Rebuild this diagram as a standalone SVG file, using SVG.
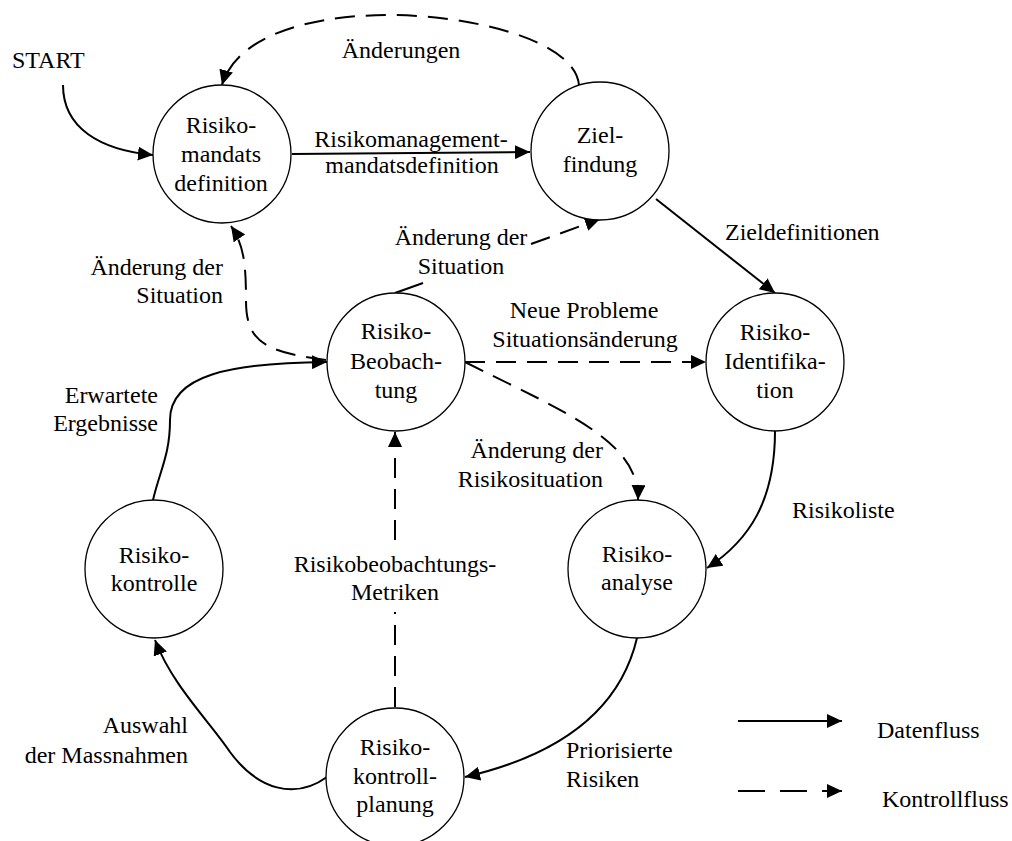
<svg xmlns="http://www.w3.org/2000/svg" width="1012" height="841" viewBox="0 0 1012 841" font-family="'Liberation Serif', Tinos, 'Times New Roman', Times, 'DejaVu Serif', serif">
<style>
text{font-family:'Liberation Serif', Tinos, 'Times New Roman', Times, 'DejaVu Serif', serif;font-size:24px;fill:#000}
.c{text-anchor:middle}
.e{text-anchor:end}
.node circle{fill:#fff;stroke:#000;stroke-width:1.3}
.data{fill:none;stroke:#000;stroke-width:2}
.ctrl{fill:none;stroke:#000;stroke-width:2;stroke-dasharray:20,11}
</style>
<defs>
<marker id="ah" markerUnits="userSpaceOnUse" markerWidth="16" markerHeight="14" refX="15" refY="7" orient="auto">
<path d="M0,0 L15,7 L0,14 z" fill="#000"/>
</marker>
</defs>
<rect width="1012" height="841" fill="#fff"/>
<g id="connectors">
<path class="data" d="M63,85 C63,128 100,150 153,155" marker-end="url(#ah)"/>
<path class="data" d="M292,154 L530,152" marker-end="url(#ah)"/>
<path class="ctrl" d="M579,85 C575,40 470,15 390,15 C300,15 235,40 222,85" marker-end="url(#ah)"/>
<path class="data" d="M656,199 L775,293" marker-end="url(#ah)"/>
<path class="ctrl" d="M465,362 L706,362" marker-end="url(#ah)"/>
<path class="ctrl" d="M465,362 C560,410 640,440 638,500" marker-end="url(#ah)"/>
<path class="data" d="M395,293 L423,283"/>
<path class="ctrl" d="M531,244 L600,219" marker-end="url(#ah)"/>
<path class="ctrl" d="M326,360 C262,352 246,340 246,300 C246,265 244,245 231,226" marker-end="url(#ah)"/>
<path class="data" d="M153,500 C160,470 170,455 170,420 C170,375 230,363 327,362" marker-end="url(#ah)"/>
<path class="ctrl" d="M395,707 L395,612"/>
<path class="ctrl" d="M395,540 L395,432" marker-end="url(#ah)"/>
<path class="data" d="M775,431 C775,500 750,540 707,568" marker-end="url(#ah)"/>
<path class="data" d="M637,638 C620,710 560,755 465,777" marker-end="url(#ah)"/>
<path class="data" d="M327,777 C295,800 258,790 230,752 C210,722 172,685 155,640" marker-end="url(#ah)"/>
</g>
<g id="labels">
<text x="12" y="68">START</text>
<text class="c" x="411" y="147">Risikomanagement-</text>
<text class="c" x="412" y="173">mandatsdefinition</text>
<text class="c" x="401" y="58">Änderungen</text>
<text x="725" y="240">Zieldefinitionen</text>
<text class="c" x="461" y="245">Änderung der</text>
<text class="c" x="461" y="274">Situation</text>
<text class="e" x="223" y="275">Änderung der</text>
<text class="e" x="223" y="303">Situation</text>
<text class="c" x="584" y="318">Neue Probleme</text>
<text class="c" x="585" y="347">Situationsänderung</text>
<text class="e" x="603" y="458">Änderung der</text>
<text class="e" x="603" y="487">Risikosituation</text>
<text class="e" x="158" y="403">Erwartete</text>
<text class="e" x="158" y="431">Ergebnisse</text>
<text x="792" y="518">Risikoliste</text>
<text class="c" x="395" y="572">Risikobeobachtungs-</text>
<text class="c" x="395" y="600">Metriken</text>
<text x="566" y="758">Priorisierte</text>
<text x="566" y="787">Risiken</text>
<text class="e" x="188" y="733">Auswahl</text>
<text class="e" x="188" y="763">der Massnahmen</text>
</g>
<g id="node-mandat" class="node">
<circle cx="222" cy="154" r="69"/>
<text class="c" x="221" y="133">Risiko-</text>
<text class="c" x="221" y="162">mandats</text>
<text class="c" x="221" y="191">definition</text>
</g>
<g id="node-ziel" class="node">
<circle cx="600" cy="151" r="69"/>
<text class="c" x="600" y="143">Ziel-</text>
<text class="c" x="600" y="172">findung</text>
</g>
<g id="node-ident" class="node">
<circle cx="775" cy="362" r="69"/>
<text class="c" x="775" y="340">Risiko-</text>
<text class="c" x="775" y="369">Identifika-</text>
<text class="c" x="775" y="398">tion</text>
</g>
<g id="node-beob" class="node">
<circle cx="396" cy="362" r="69"/>
<text class="c" x="396" y="339">Risiko-</text>
<text class="c" x="396" y="369">Beobach-</text>
<text class="c" x="396" y="398">tung</text>
</g>
<g id="node-analyse" class="node">
<circle cx="637" cy="569" r="69"/>
<text class="c" x="637" y="562">Risiko-</text>
<text class="c" x="637" y="590">analyse</text>
</g>
<g id="node-kontrolle" class="node">
<circle cx="154" cy="569" r="69"/>
<text class="c" x="154" y="563">Risiko-</text>
<text class="c" x="154" y="591">kontrolle</text>
</g>
<g id="node-planung" class="node">
<circle cx="395" cy="777" r="69"/>
<text class="c" x="395" y="755">Risiko-</text>
<text class="c" x="395" y="784">kontroll-</text>
<text class="c" x="395" y="812">planung</text>
</g>
<g id="legend">
<path class="data" d="M738,721 L842,721" marker-end="url(#ah)"/>
<text x="877" y="738">Datenfluss</text>
<path class="data" d="M738,791 L842,791" stroke-dasharray="27,15" marker-end="url(#ah)"/>
<text x="882" y="807">Kontrollfluss</text>
</g>
</svg>
